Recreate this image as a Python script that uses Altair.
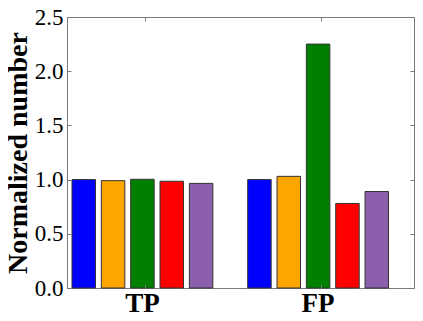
import altair as alt
import pandas as pd

groups = ["TP", "FP"]
series = ["S1", "S2", "S3", "S4", "S5"]
tp_values = [1.00, 0.99, 1.003, 0.985, 0.965]
fp_values = [1.00, 1.03, 2.25, 0.78, 0.89]
colors = ["#0000ff", "#ffa500", "#008000", "#ff0000", "#8c5fac"]
y_ticks = [0.0, 0.5, 1.0, 1.5, 2.0, 2.5]

rows = []
for g, vals in zip(groups, [tp_values, fp_values]):
    for s, v in zip(series, vals):
        rows.append({"group": g, "series": s, "value": v})
df = pd.DataFrame(rows)

W, H = 347, 271
FRAME = "#7a7a7a"
SERIF = "'Liberation Serif', 'Times New Roman', Times, serif"

xscale = alt.Scale(domain=groups, paddingInner=0.165, paddingOuter=0.070, align=0.084)
yscale = alt.Scale(domain=[0, 2.5], nice=False, zero=True)
offscale = alt.Scale(domain=series, paddingInner=0.2, paddingOuter=0.1)
colscale = alt.Scale(domain=series, range=colors)


def layer(xaxis, yaxis, visible):
    enc = dict(
        x=alt.X("group:N", scale=xscale, axis=xaxis, sort=groups),
        xOffset=alt.XOffset("series:N", scale=offscale, sort=series),
        y=alt.Y("value:Q", scale=yscale, axis=yaxis),
        color=alt.Color("series:N", scale=colscale, legend=None),
    )
    if visible:
        m = alt.Chart(df).mark_bar(stroke="#333333", strokeWidth=1)
    else:
        m = alt.Chart(df).mark_bar(opacity=0)
    return m.encode(**enc)


main = layer(
    alt.Axis(orient="bottom", title=None, ticks=False, domain=False, labelAngle=0,
             labelFont=SERIF, labelFontSize=27, labelFontWeight="bold", labelColor="black",
             labelPadding=2, bandPosition=0.52),
    alt.Axis(orient="left", values=y_ticks, format=".1f", ticks=False, domain=False, grid=False,
             labelFont=SERIF, labelFontSize=23, labelFontWeight="normal", labelColor="black",
             labelPadding=4,
             title="Normalized number", titleFont=SERIF, titleFontSize=28,
             titleFontWeight="bold", titleColor="black", titlePadding=2),
    True,
)

ticks_a = layer(
    alt.Axis(orient="top", offset=-H, title=None, labels=False, domain=False, tickSize=4,
             tickColor=FRAME, bandPosition=0.52, zindex=1),
    alt.Axis(orient="right", offset=-W, title=None, labels=False, domain=False, grid=False,
             values=y_ticks, tickSize=4, tickColor=FRAME, zindex=1),
    False,
)

ticks_b = layer(
    alt.Axis(orient="bottom", offset=-H, title=None, labels=False, domain=False, tickSize=4,
             tickColor=FRAME, bandPosition=0.52, zindex=1),
    alt.Axis(orient="left", offset=-W, title=None, labels=False, domain=False, grid=False,
             values=y_ticks, tickSize=4, tickColor=FRAME, zindex=1),
    False,
)

chart = (
    alt.layer(main, ticks_a, ticks_b)
    .resolve_axis(x="independent", y="independent")
    .properties(
        width=W,
        height=H,
        autosize=alt.AutoSizeParams(type="none"),
        padding={"left": 59, "top": 9, "right": 1, "bottom": 30},
        background="white",
    )
    .configure_view(stroke=FRAME, strokeWidth=1)
)

chart.save("out.html", embed_options={"renderer": "svg", "actions": False})
